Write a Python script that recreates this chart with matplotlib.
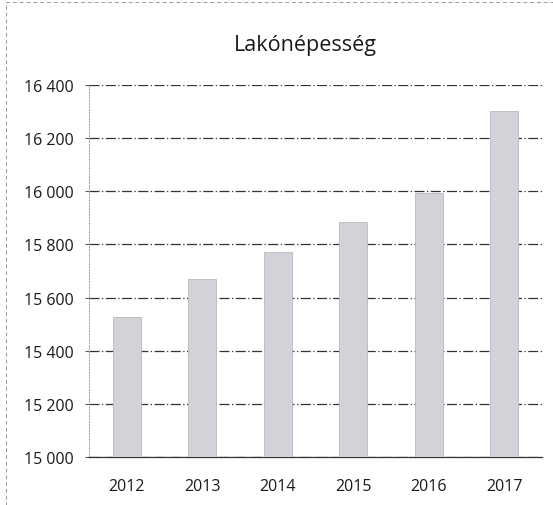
import matplotlib
matplotlib.use("Agg")
import matplotlib.pyplot as plt
from matplotlib.patches import Rectangle

years = ["2012", "2013", "2014", "2015", "2016", "2017"]
population = [15525, 15670, 15773, 15886, 15994, 16303]
yticks = [15000, 15200, 15400, 15600, 15800, 16000, 16200, 16400]
ytick_labels = ["15 000", "15 200", "15 400", "15 600", "15 800", "16 000", "16 200", "16 400"]
title = "Lakónépesség"

plt.rcParams['font.family'] = ['Open Sans', 'DejaVu Sans']

fig = plt.figure(figsize=(5.53, 5.06), dpi=100)
ax = fig.add_axes([0.161, 0.095, 0.819, 0.735])

x = range(len(years))
ax.bar(x, population, width=0.37, color='#d2d3d8', edgecolor='#b8b9be', linewidth=0.6, zorder=3)

ax.set_ylim(15000, 16400)
ax.set_xlim(-0.5, len(years) - 0.5)
ax.set_yticks(yticks)
ax.set_yticklabels(ytick_labels, fontsize=11.5, color='#1a1a1a')
ax.set_xticks(list(x))
ax.set_xticklabels(years, fontsize=11.5, color='#1a1a1a')
ax.tick_params(axis='y', length=3, color='#555555', pad=8)
ax.tick_params(axis='x', length=0, pad=15)

ax.grid(axis='y', color='#333333', linestyle=(0, (8, 2, 1, 2)), linewidth=0.9, zorder=0)
for s in ['top', 'right']:
    ax.spines[s].set_visible(False)
ax.spines['left'].set_color('#999999')
ax.spines['left'].set_linestyle((0, (1, 2)))
ax.spines['left'].set_linewidth(0.7)
ax.spines['bottom'].set_color('#333333')
ax.spines['bottom'].set_linewidth(0.9)

fig.text(0.553, 0.91, title, ha='center', va='center', fontsize=15.5, color='#1a1a1a')

border = Rectangle((0.01, -0.1), 1.2, 1.095, transform=fig.transFigure, fill=False,
                   edgecolor='#999999', linewidth=0.7, linestyle=(0, (4, 3)))
fig.patches.append(border)

fig.savefig("out.png", dpi=100)
